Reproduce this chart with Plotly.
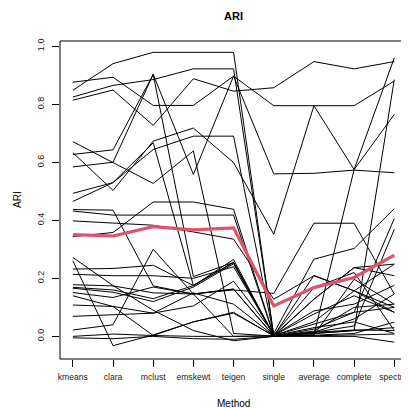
import plotly.graph_objects as go

methods = ["kmeans", "clara", "mclust", "emskewt", "teigen", "single", "average", "complete", "spectral"]

# ARI per dataset (one list per dataset)
ds_01 = [0.848, 0.940, 0.979, 0.979, 0.979, 0.002, 0.005, 0.575, 0.960]
ds_02 = [0.876, 0.893, 0.796, 0.796, 0.897, 0.795, 0.795, 0.795, 0.880]
ds_03 = [0.825, 0.865, 0.885, 0.922, 0.922, 0.003, 0.010, 0.020, 0.885]
ds_04 = [0.814, 0.849, 0.727, 0.888, 0.845, 0.857, 0.947, 0.922, 0.947]
ds_05 = [0.627, 0.643, 0.903, 0.558, 0.897, 0.560, 0.562, 0.573, 0.564]
ds_06 = [0.584, 0.600, 0.903, 0.206, 0.255, 0.004, 0.088, 0.111, 0.176]
ds_07 = [0.633, 0.503, 0.673, 0.718, 0.599, 0.352, 0.795, 0.575, 0.765]
ds_08 = [0.671, 0.600, 0.527, 0.639, 0.010, 0.001, 0.025, 0.083, 0.406]
ds_09 = [0.493, 0.530, 0.644, 0.690, 0.690, 0.002, 0.014, 0.036, 0.369]
ds_10 = [0.465, 0.530, 0.667, 0.175, 0.255, 0.003, 0.050, 0.157, 0.249]
ds_11 = [0.437, 0.435, 0.174, 0.146, 0.163, 0.001, 0.014, 0.060, 0.146]
ds_12 = [0.432, 0.418, 0.418, 0.418, 0.418, 0.002, 0.018, 0.100, 0.111]
ds_13 = [0.344, 0.358, 0.463, 0.463, 0.438, 0.003, 0.077, 0.140, 0.083]
ds_14 = [0.398, 0.390, 0.383, 0.360, 0.335, 0.128, 0.209, 0.157, 0.100]
ds_15 = [0.272, 0.175, 0.090, 0.020, -0.015, 0.000, 0.004, 0.010, 0.049]
ds_16 = [0.260, -0.032, 0.005, 0.050, 0.080, 0.002, 0.010, 0.020, 0.030]
ds_17 = [0.232, 0.234, 0.245, 0.175, 0.255, 0.004, 0.128, 0.237, 0.209]
ds_18 = [0.214, 0.209, 0.209, 0.200, 0.240, 0.005, 0.168, 0.220, 0.020]
ds_19 = [0.178, 0.174, 0.150, 0.146, 0.163, 0.003, 0.042, 0.083, 0.100]
ds_20 = [0.169, 0.160, 0.130, 0.175, 0.265, 0.002, 0.014, 0.022, 0.020]
ds_21 = [0.166, 0.152, 0.120, 0.170, 0.250, 0.001, 0.005, 0.197, 0.111]
ds_22 = [0.151, 0.134, 0.170, 0.146, 0.160, 0.148, 0.390, 0.390, 0.146]
ds_23 = [0.140, 0.103, 0.080, 0.105, 0.190, 0.010, 0.266, 0.303, 0.440]
ds_24 = [0.108, 0.103, 0.003, 0.050, 0.083, 0.001, 0.128, 0.237, 0.249]
ds_25 = [0.069, 0.074, 0.080, 0.150, 0.111, 0.002, 0.210, 0.157, 0.083]
ds_26 = [0.022, 0.040, 0.300, 0.146, 0.000, 0.002, 0.030, 0.050, 0.010]
ds_27 = [0.000, 0.008, 0.003, 0.000, 0.000, 0.000, 0.002, 0.005, 0.008]
ds_28 = [-0.005, -0.008, 0.000, -0.008, -0.010, 0.000, 0.000, 0.000, -0.020]

mean_ari = [0.351, 0.346, 0.378, 0.367, 0.374, 0.105, 0.168, 0.203, 0.280]

datasets = [ds_01, ds_02, ds_03, ds_04, ds_05, ds_06, ds_07, ds_08, ds_09, ds_10,
            ds_11, ds_12, ds_13, ds_14, ds_15, ds_16, ds_17, ds_18, ds_19, ds_20,
            ds_21, ds_22, ds_23, ds_24, ds_25, ds_26, ds_27, ds_28]

y_ticks = [0.0, 0.2, 0.4, 0.6, 0.8, 1.0]
y_tick_labels = ["0.0", "0.2", "0.4", "0.6", "0.8", "1.0"]

xpos = list(range(1, len(methods) + 1))

fig = go.Figure()
for ds in datasets:
    fig.add_trace(go.Scatter(x=xpos, y=ds, mode="lines",
                             line=dict(color="black", width=1),
                             showlegend=False, hoverinfo="skip"))
fig.add_trace(go.Scatter(x=xpos, y=mean_ari, mode="lines",
                         line=dict(color="#DF536B", width=3.2),
                         showlegend=False, hoverinfo="skip"))

FONT = "Liberation Sans, Arial, Helvetica, sans-serif"

fig.update_layout(
    width=401, height=400,
    margin=dict(l=52, r=0, t=33, b=49),
    paper_bgcolor="white", plot_bgcolor="white",
    font=dict(family=FONT, color="black"),
    xaxis=dict(range=[0.68, 9.192], tickmode="array", tickvals=xpos, ticktext=methods,
               ticks="outside", ticklen=7, tickwidth=1, tickcolor="black",
               showgrid=False, zeroline=False, showline=False,
               ticklabeloverflow="allow", ticklabelstandoff=3,
               tickfont=dict(size=8.6, family=FONT, color="#222")),
    yaxis=dict(range=[-0.078, 1.018], tickmode="array", tickvals=y_ticks, ticktext=y_tick_labels,
               ticks="outside", ticklen=7, tickwidth=1, tickcolor="black",
               showgrid=False, zeroline=False, showline=False, tickangle=-90,
               ticklabelstandoff=4,
               tickfont=dict(size=9, family=FONT, color="#222")),
    shapes=[
        dict(type="line", xref="paper", yref="paper", x0=0, x1=0, y0=0, y1=1,
             line=dict(color="black", width=1)),
        dict(type="line", xref="paper", yref="paper", x0=0, x1=1.02, y0=0, y1=0,
             line=dict(color="black", width=1)),
        dict(type="line", xref="paper", yref="paper", x0=0, x1=1.02, y0=1, y1=1,
             line=dict(color="black", width=1)),
    ],
    annotations=[
        dict(text="<b>ARI</b>", xref="paper", yref="paper", x=0.507, y=1.0,
             yshift=25, showarrow=False, font=dict(size=11, family=FONT, color="black"),
             xanchor="center", yanchor="middle"),
        dict(text="Method", xref="paper", yref="paper", x=0.507, y=0,
             yshift=-44, showarrow=False, font=dict(size=10, family=FONT, color="black"),
             xanchor="center", yanchor="middle"),
        dict(text="ARI", xref="paper", yref="paper", x=0, y=0.5, xshift=-43,
             showarrow=False, textangle=-90, font=dict(size=10, family=FONT, color="black"),
             xanchor="center", yanchor="middle"),
    ],
)

fig.write_html("out.html")
